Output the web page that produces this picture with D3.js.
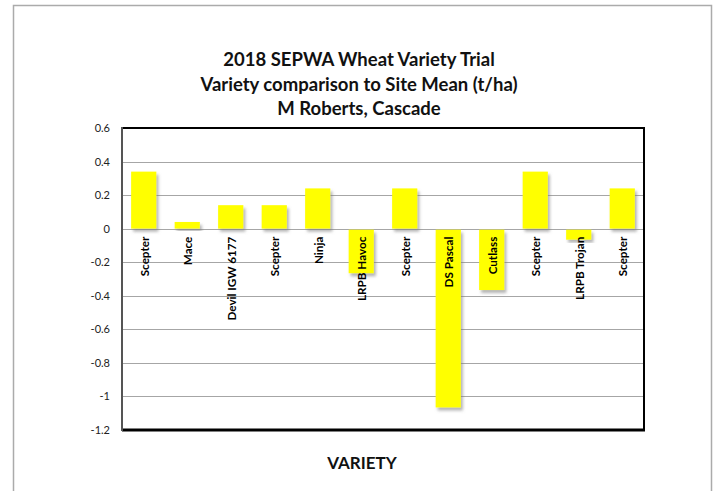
<!DOCTYPE html>
<html>
<head>
<meta charset="utf-8">
<script src="https://cdn.jsdelivr.net/npm/d3@7"></script>
<style>
  html, body { margin: 0; padding: 0; background: #fff; }
  svg { display: block; }
</style>
</head>
<body>
<svg id="chart" width="716" height="491"></svg>
<script>
const categories = ["Scepter", "Mace", "Devil IGW 6177", "Scepter", "Ninja", "LRPB Havoc", "Scepter", "DS Pascal", "Cutlass", "Scepter", "LRPB Trojan", "Scepter"];
const values = [0.34, 0.04, 0.14, 0.14, 0.24, -0.26, 0.24, -1.06, -0.36, 0.34, -0.06, 0.24];
const yTicks = [0.6, 0.4, 0.2, 0, -0.2, -0.4, -0.6, -0.8, -1, -1.2];
const titleLines = ["2018 SEPWA Wheat Variety Trial", "Variety comparison to Site Mean (t/ha)", "M Roberts, Cascade"];
const xTitle = "VARIETY";

const svg = d3.select("#chart");
const W = 716, H = 491;
const plot = { left: 122, right: 644, top: 128, bottom: 430 };

// outer chart border
svg.append("rect").attr("x", 13.5).attr("y", 5.5).attr("width", 698).attr("height", 500)
  .attr("fill", "#fff").attr("stroke", "#ababab").attr("stroke-width", 1.5);

const defs = svg.append("defs");
const f = defs.append("filter").attr("id", "shadow").attr("x", "-20%").attr("y", "-20%").attr("width", "150%").attr("height", "150%");
f.append("feDropShadow").attr("dx", 2).attr("dy", 3).attr("stdDeviation", 1.5)
  .attr("flood-color", "#777").attr("flood-opacity", 0.55);

const x = d3.scaleBand().domain(d3.range(categories.length)).range([plot.left, plot.right]).paddingInner(0.42).paddingOuter(0.21);
const y = d3.scaleLinear().domain([-1.2, 0.6]).range([plot.bottom, plot.top]);

// gridlines
svg.append("g").selectAll("line").data(yTicks.filter(t => t !== 0.6 && t !== -1.2)).join("line")
  .attr("x1", plot.left).attr("x2", plot.right)
  .attr("y1", d => Math.round(y(d)) + 0.5).attr("y2", d => Math.round(y(d)) + 0.5)
  .attr("stroke", "#a6a6a6").attr("stroke-width", 1);

// y axis labels
const yAxis = d3.axisLeft(y).tickValues(yTicks).tickSize(0).tickPadding(12).tickFormat(d => String(+d.toFixed(1)));
const gy = svg.append("g").attr("transform", `translate(${plot.left},0)`).call(yAxis);
gy.select(".domain").remove();
gy.selectAll("text").attr("font-family", "Lato, 'Open Sans', sans-serif").attr("font-size", 11).attr("fill", "#222");

// bars
svg.append("g").selectAll("rect").data(values).join("rect")
  .attr("x", (d, i) => x(i)).attr("width", x.bandwidth())
  .attr("y", d => y(Math.max(0, d)) + (d < 0 ? 1 : 0))
  .attr("height", d => Math.abs(y(d) - y(0)))
  .attr("fill", "#ffff00")
  .attr("filter", "url(#shadow)");

// category labels (rotated)
svg.append("g").selectAll("text").data(categories).join("text")
  .attr("transform", (d, i) => `translate(${x(i) + x.bandwidth() / 2 + 1},${y(0) + 8}) rotate(-90)`)
  .attr("text-anchor", "end").attr("dy", "0.36em")
  .attr("font-family", "Lato, 'Open Sans', sans-serif").attr("font-weight", "bold").attr("font-size", 11.7)
  .attr("fill", "#000")
  .text(d => d);

// plot border
svg.append("line").attr("x1", plot.left).attr("x2", plot.right + 1).attr("y1", plot.top).attr("y2", plot.top).attr("stroke", "#000").attr("stroke-width", 2);
svg.append("line").attr("x1", plot.right).attr("x2", plot.right).attr("y1", plot.top).attr("y2", plot.bottom).attr("stroke", "#000").attr("stroke-width", 2);
svg.append("line").attr("x1", plot.left).attr("x2", plot.right + 1).attr("y1", plot.bottom).attr("y2", plot.bottom).attr("stroke", "#000").attr("stroke-width", 3);
svg.append("line").attr("x1", plot.left).attr("x2", plot.left).attr("y1", plot.top - 1).attr("y2", plot.bottom + 1).attr("stroke", "#555").attr("stroke-width", 2);

// title
svg.append("g").selectAll("text").data(titleLines).join("text")
  .attr("x", 359).attr("y", (d, i) => 66 + i * 24.5)
  .attr("text-anchor", "middle")
  .attr("font-family", "Lato, 'Open Sans', sans-serif").attr("font-weight", "bold").attr("font-size", 18.5)
  .attr("fill", "#111")
  .text(d => d);

// x axis title
svg.append("text").attr("x", 362).attr("y", 469).attr("text-anchor", "middle")
  .attr("font-family", "Lato, 'Open Sans', sans-serif").attr("font-weight", "bold").attr("font-size", 17)
  .attr("fill", "#111").text(xTitle);
</script>
</body>
</html>
